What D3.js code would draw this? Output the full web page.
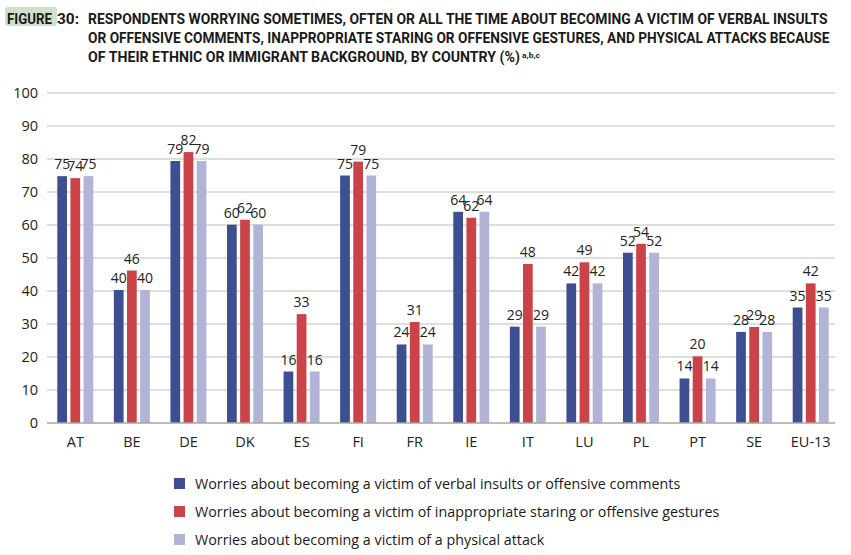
<!DOCTYPE html>
<html>
<head>
<meta charset="utf-8">
<script src="https://cdn.jsdelivr.net/npm/d3@7"></script>
<style>
  body { margin: 0; background: #fff; }
  svg text { font-family: "Open Sans", "Noto Sans", sans-serif; }
  .title { font-family: "Roboto", "Liberation Sans", sans-serif; font-weight: bold; font-size: 15px; fill: #1a1a1a; }
</style>
</head>
<body>
<svg id="chart" width="851" height="555"></svg>
<script>
// data
var countries = ["AT", "BE", "DE", "DK", "ES", "FI", "FR", "IE", "IT", "LU", "PL", "PT", "SE", "EU-13"];
var verbal   = [74.8, 40.3, 79.4, 60.1, 15.6, 75.0, 23.8, 64.0, 29.2, 42.3, 51.6, 13.5, 27.6, 35.0];
var staring  = [74.2, 46.2, 82.1, 61.6, 33.0, 79.2, 30.6, 62.2, 48.2, 48.7, 54.3, 20.2, 29.1, 42.3];
var physical = [74.8, 40.3, 79.4, 60.1, 15.6, 75.0, 23.8, 64.0, 29.2, 42.3, 51.6, 13.5, 27.6, 35.0];
var labelVerbal   = [75, 40, 79, 60, 16, 75, 24, 64, 29, 42, 52, 14, 28, 35];
var labelStaring  = [74, 46, 82, 62, 33, 79, 31, 62, 48, 49, 54, 20, 29, 42];
var labelPhysical = [75, 40, 79, 60, 16, 75, 24, 64, 29, 42, 52, 14, 28, 35];
var seriesNames = [
  "Worries about becoming a victim of verbal insults or offensive comments",
  "Worries about becoming a victim of inappropriate staring or offensive gestures",
  "Worries about becoming a victim of a physical attack"
];
var yTicks = [0, 10, 20, 30, 40, 50, 60, 70, 80, 90, 100];
var titleLines = [
  "RESPONDENTS WORRYING SOMETIMES, OFTEN OR ALL THE TIME ABOUT BECOMING A VICTIM OF VERBAL INSULTS",
  "OR OFFENSIVE COMMENTS, INAPPROPRIATE STARING OR OFFENSIVE GESTURES, AND PHYSICAL ATTACKS BECAUSE",
  "OF THEIR ETHNIC OR IMMIGRANT BACKGROUND, BY COUNTRY (%)"
];

var colors = ["#3d4f91", "#cb4249", "#b1b3d7"];
var series = [verbal, staring, physical];
var labels = [labelVerbal, labelStaring, labelPhysical];

var svg = d3.select("#chart");

// squeeze a text horizontally to a given width (condensed look)
function fitText(txt, x, y, w, cls, size) {
  var t = svg.append("text").attr("class", cls).text(txt);
  if (size) t.style("font-size", size);
  var nat = t.node().getComputedTextLength();
  t.attr("transform", "translate(" + x + "," + y + ") scale(" + (w / nat) + ",1)");
  return t;
}

// title
svg.append("rect")
  .attr("x", 5).attr("y", 7).attr("width", 52).attr("height", 19)
  .attr("rx", 3).attr("fill", "#cfe2c9");
fitText("FIGURE", 7, 23.5, 45, "title");
fitText("30:", 57, 23.5, 22, "title");
var titleWidths = [740, 742, 432];
titleLines.forEach(function(t, i) {
  fitText(t, 88, 23.5 + i * 19.3, titleWidths[i], "title");
});
// superscript after last title line
fitText("a,b,c", 88 + titleWidths[2] + 2, 57.5, 18, "title", "8px");

// scales
var margin = {left: 47, right: 12, top: 93, bottom: 132};
var width = 851 - margin.left - margin.right;
var height = 555 - margin.top - margin.bottom;

var g = svg.append("g").attr("transform", "translate(" + margin.left + "," + margin.top + ")");

var x = d3.scaleBand().domain(countries).range([0, width]).paddingInner(0).paddingOuter(0);
var y = d3.scaleLinear().domain([0, 100]).range([height, 0]);
var inner = d3.scaleBand().domain([0, 1, 2]).range([x.bandwidth() / 2 - 18, x.bandwidth() / 2 + 18]).paddingInner(0.26);

// gridlines
g.selectAll(".grid")
  .data(yTicks.filter(function(d) { return d > 0; }))
  .enter().append("line")
  .attr("x1", 0).attr("x2", width - 4)
  .attr("y1", function(d) { return y(d); })
  .attr("y2", function(d) { return y(d); })
  .attr("stroke", "#bdbdbd").attr("stroke-width", 1);

// y axis labels
var yAxis = g.append("g").call(d3.axisLeft(y).tickValues(yTicks).tickSize(0).tickPadding(9));
yAxis.select(".domain").remove();
yAxis.selectAll("text").attr("font-size", "14.5px").attr("fill", "#222")
  .style("font-family", "'Open Sans', sans-serif");

// bars
series.forEach(function(vals, s) {
  g.selectAll(".bar" + s)
    .data(vals)
    .enter().append("rect")
    .attr("class", "bar" + s)
    .attr("x", function(d, i) { return x(countries[i]) + inner(s); })
    .attr("width", inner.bandwidth())
    .attr("y", function(d) { return y(d); })
    .attr("height", function(d) { return height - y(d); })
    .attr("fill", colors[s]);
});

// data labels
series.forEach(function(vals, s) {
  g.selectAll(".lab" + s)
    .data(vals)
    .enter().append("text")
    .attr("class", "lab" + s)
    .attr("x", function(d, i) { return x(countries[i]) + inner(s) + inner.bandwidth() / 2; })
    .attr("y", function(d) { return y(d) - 7; })
    .attr("text-anchor", "middle")
    .attr("font-size", "14px")
    .attr("fill", "#222")
    .text(function(d, i) { return labels[s][i]; });
});

// x axis
var xAxis = g.append("g")
  .attr("transform", "translate(0," + height + ")")
  .call(d3.axisBottom(x).tickSize(0).tickPadding(14));
xAxis.select(".domain").attr("stroke", "#a6a6a6").attr("stroke-width", 1.5)
  .attr("d", "M0,0H" + (width - 4));
xAxis.selectAll("text").attr("font-size", "14.5px").attr("fill", "#222")
  .style("font-family", "'Open Sans', sans-serif");

// legend
var legend = svg.append("g").attr("transform", "translate(174,478)");
seriesNames.forEach(function(name, i) {
  var row = legend.append("g").attr("transform", "translate(0," + (i * 28) + ")");
  row.append("rect").attr("width", 11).attr("height", 11).attr("fill", colors[i]);
  row.append("text").attr("x", 21).attr("y", 11)
    .attr("font-size", "14.3px").attr("fill", "#1a1a1a")
    .text(name);
});
</script>
</body>
</html>
